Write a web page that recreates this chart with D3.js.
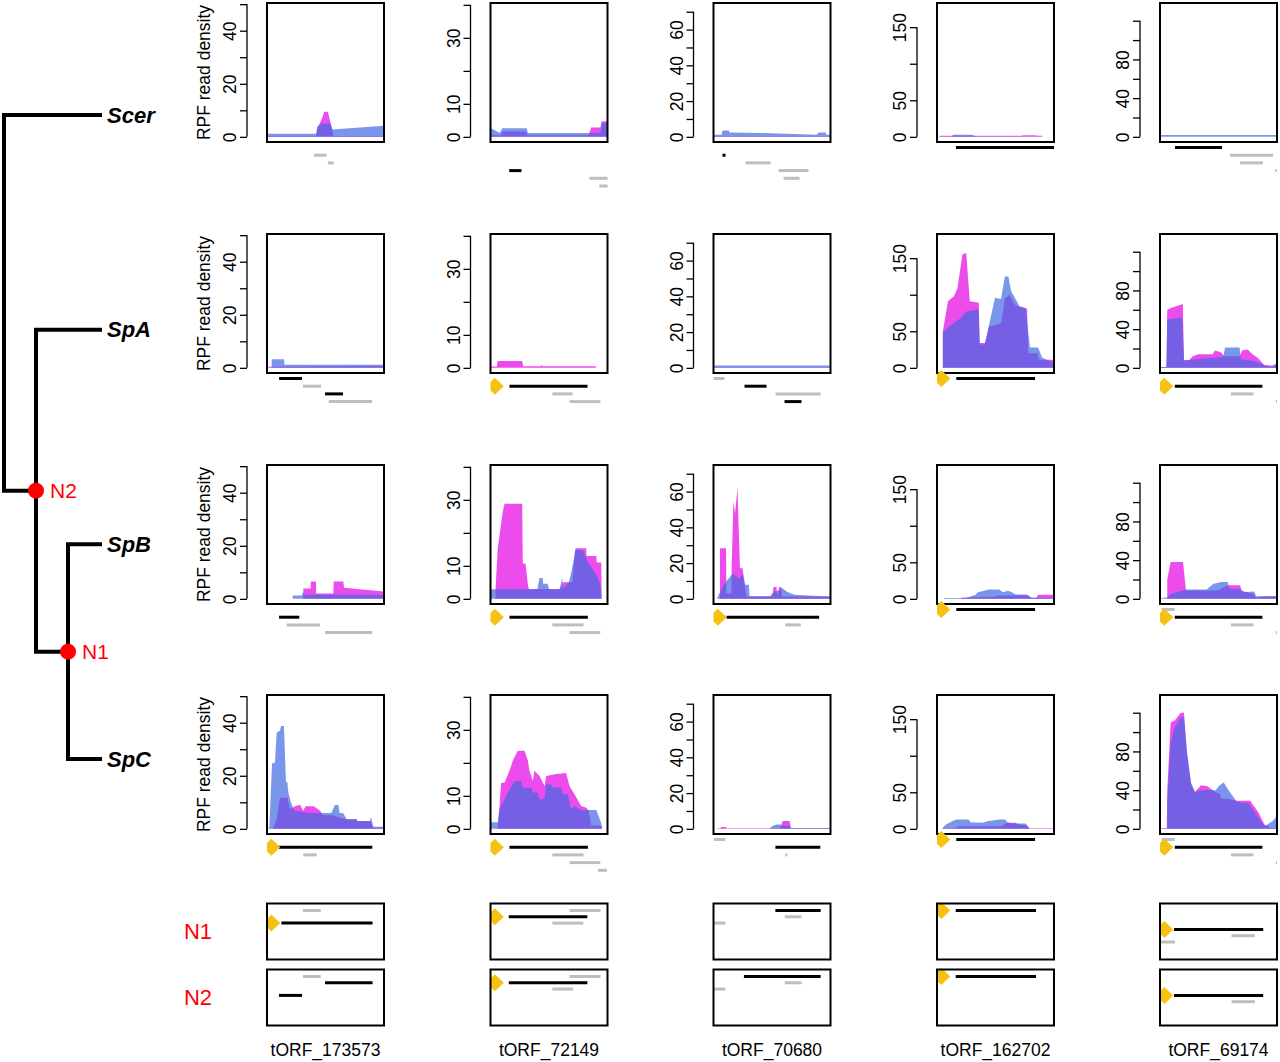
<!DOCTYPE html>
<html>
<head>
<meta charset="utf-8">
<script src="https://cdn.jsdelivr.net/npm/d3@7"></script>
<style>
  body { margin: 0; background: #fff; }
  svg { display: block; }
  text { font-family: "Liberation Sans", Arial, sans-serif; }
</style>
</head>
<body>
<svg id="chart" width="1280" height="1062"></svg>
<script>
// ---- data ----
const orfNames = ["tORF_173573", "tORF_72149", "tORF_70680", "tORF_162702", "tORF_69174"];
const yMax = [48.5, 39, 72, 176, 133];
const yTicks = [
  [0, 10, 20, 30, 40, 50],
  [0, 10, 20, 30, 40],
  [0, 10, 20, 30, 40, 50, 60, 70],
  [0, 50, 100, 150],
  [0, 20, 40, 60, 80, 100, 120]
];
const yTickLabels = [[0, 20, 40], [0, 10, 30], [0, 20, 40, 60], [0, 50, 150], [0, 40, 80]];

// density profiles: [position (0-100), RPF density]
const scerPink = [
  [[0,0.3],[42,0.3],[43,3],[47,7],[49,9.5],[52,9.5],[54,6],[56,2],[57,0.3],[100,0.3]],
  [[0,0.5],[9,0.5],[10,1.6],[30,1.6],[32,0.5],[84,0.5],[86,2.8],[94,2.8],[95,4.7],[100,4.7]],
  [[0,0.3],[100,0.3]],
  [[2,1.5],[72,1.5],[74,2.2],[84,2.2],[86,1.5],[90,1.5]],
  []
];
const scerBlue = [
  [[0,1.2],[42,1.2],[43,4],[47,5],[54,5],[56,2.8],[100,4.2]],
  [[0,2.7],[8,1.2],[10,2.6],[31,2.6],[32,1.2],[94,1.2],[95,4.2],[100,4.2]],
  [[0,1.2],[7,1.2],[7.7,3.5],[13,3.5],[13.7,2.4],[40,2.2],[63,1.8],[88,1.2],[90,2.4],[95.8,2.4],[96.5,1.2],[100,1.2]],
  [[2,0.4],[12,0.6],[14,2.8],[30,2.8],[33,0.6],[60,0.4],[90,0.3]],
  [[0,2],[100,2]]
];
const spaPink = [
  [[0,0.4],[100,0.7]],
  [[0,0.4],[5.5,0.4],[6,2.1],[27,2.1],[28,0.5],[43,0.5],[43.5,0.9],[44.5,0.5],[90,0.5],[90.5,0]],
  [[0,0.3],[100,0.3]],
  [[5,50],[9.4,91],[14.5,98],[17.5,109],[21.7,155],[25,157],[28,91],[35.7,89],[36.5,34],[41,34],[44.5,57],[53,60],[55,62],[58,95],[62,100],[66.7,86],[70.6,84],[75.8,82],[77,80],[78,20],[86,20],[87,11],[100,11]],
  [[0,0.8],[5.5,0.8],[6.2,60],[10,62],[19.5,66],[20.5,8],[25,8],[28,12],[33,14],[45,14],[47,18],[52,16],[55,12],[68,12],[70,18],[75,19],[79,14],[84,10],[89,3],[100,2]]
];
const spaBlue = [
  [[4,3.2],[14.5,3.2],[15,1.2],[100,1.2]],
  [],
  [[0,1.3],[100,1.3]],
  [[5,48],[9,55],[20,68],[25,77],[35.5,80],[36.5,32],[41,32],[44.5,59],[49.6,96],[54.7,94],[58,125],[61,125],[63.3,105],[70.6,84],[75.8,81],[79.5,28],[86.4,28],[89.8,14],[98.8,7],[100,6]],
  [[0,1],[5.5,1],[6.2,50],[19,52],[20.5,7],[30,9],[40,10],[54,11],[55.6,21],[68,21],[69,9],[80,7],[89,3],[95,1],[98,4],[100,4]]
];
const spbPink = [
  [[31,3.9],[37.4,3.9],[37.5,6.5],[41.9,6.5],[42,2],[56.7,2],[57,6.5],[65.2,6.5],[65.8,4.2],[100,2.8]],
  [[4.3,3],[6.2,15.3],[10.5,26.5],[12,28.8],[27.1,28.8],[27.6,10.7],[29.9,10.7],[31.9,4.6],[32.7,3],[60,3],[62,5],[70,5],[72,14],[72.7,15.3],[81.8,15.3],[82.1,13],[90.4,13],[90.9,11],[94.7,11],[95,0]],
  [[5.5,28.3],[10.7,28.3],[11,3],[15.2,3],[15.6,20],[17,54.7],[18.4,48],[20.5,62],[22,30],[22.6,17],[24.7,17.4],[26.8,8.5],[28,1.3],[50.2,1.3],[51.3,6.6],[53.9,6.6],[54.5,1.3],[56.1,6.6],[58.1,6.6],[58.5,1.3],[100,1.3]],
  [[20,0.5],[22,1.8],[50,3],[53,4.5],[77,4.5],[80,1.5],[85,1.5],[86.4,5.5],[100,5.5]],
  [[6.2,20],[9.1,38],[19.7,38],[22.2,8.7],[40,8.7],[50,9],[58,14],[68.4,14],[70,8],[80,5],[82,1.5],[89.3,2.8],[100,2.8]]
];
const spbBlue = [
  [[22,1.3],[29.7,1.3],[31,2.6],[32,1.5],[100,1.5]],
  [[0,2.9],[40,2.9],[41.9,6.3],[44.7,6.3],[45,4.6],[49,4.6],[50,2.9],[59,2.9],[61.3,6.3],[62,3],[67,5],[69,8],[72.7,14.8],[78.9,14.8],[83.2,11.2],[88.9,8.2],[93.8,4.6],[95,0]],
  [[3,0],[5,3],[8.3,7.5],[12.8,11.3],[16.2,14],[19,12.8],[22,11.3],[24.7,14],[26.8,7.9],[30.3,7.9],[30.8,1.5],[48.4,1.5],[50,2.8],[56,5],[58.9,6],[63.1,3.8],[69.3,2.3],[98,1.3],[100,1.3]],
  [[6,1],[25,1],[28,3],[33,5.5],[35,9],[44.5,12.7],[53,12.7],[56.4,9],[60.7,11],[64,9],[67.1,6],[77,6],[81,1.4],[100,1.4]],
  [[0,0.7],[6,1.5],[9.1,5],[22.2,9.7],[40,9.7],[45.7,15.6],[52.7,17.4],[58,17.4],[59,11],[68.4,10],[71.8,7],[80.6,7.6],[82.1,2.8],[100,2.8]]
];
const spcPink = [
  [[5,0],[8.3,3.6],[11.1,11.7],[17.4,11.7],[19.7,7.4],[23.9,8.5],[28.2,9.1],[31,6.8],[33,8.5],[40,8.5],[45.3,6.8],[48.1,5.1],[56.7,5.1],[62,4.2],[68.1,3.6],[76.7,3.6],[77,3],[88.1,3],[90.9,0.4],[100,0.4]],
  [[6,0],[7.7,6.9],[9.1,14],[12,14],[16.2,17.6],[19.1,20.7],[23.3,23.7],[29.1,23.7],[31.9,20.7],[33.3,17.6],[36.2,14.5],[37.6,17.6],[41.9,16],[46.2,13],[47.6,16],[56.2,16.6],[64.7,16.9],[67.5,13],[71.8,10.5],[77.5,6.9],[81.8,6.4],[84,5.5],[86,1],[95,1],[95.5,0]],
  [[3.1,0.4],[6,0.4],[6.5,1],[10.7,1],[11,0.4],[57,0.4],[58.9,4.2],[63,4.5],[65.2,4.2],[66,0.4],[100,0.4]],
  [[5,0.9],[16,0.9],[18,3.5],[55,3.6],[60,8.2],[67,8.2],[70,6],[76,5],[79,0.9],[100,0.9]],
  [[0,0.8],[5.8,0.8],[6.2,40],[9.1,110],[12.6,112],[17.8,120],[20.5,120],[23,78],[26.5,46],[29.9,38],[33.5,43],[35.1,45],[40.4,44],[47.5,38],[51,36],[52.7,31],[58,31],[65,29],[77.1,29],[84.1,17],[89.3,4.6],[94.6,1],[100,1]]
];
const spcBlue = [
  [[0,0.4],[2,0.4],[4.3,24.7],[6.8,25],[8.3,36.3],[11.1,37],[12,38.8],[14.5,38.8],[16.2,17.7],[17.4,17.7],[18.2,13.8],[20,10.6],[23,7],[28,6.5],[35,6],[55,6],[58.1,9],[61,9],[62,6],[65,6],[68.1,3.6],[76.7,3.6],[77,3],[88.1,3],[88.5,4.2],[89,4.2],[90.9,0.8],[100,0.8]],
  [[0,2],[6.2,2],[7.7,5.9],[12,9],[14.8,11],[20.5,14.5],[26.2,14.5],[27.6,12.5],[34.8,12.5],[36.2,11],[40.4,11],[41.9,9],[46.2,9],[47.6,13.5],[51.9,13.5],[53.3,12.5],[60.4,12.5],[61.8,10.5],[66.1,10.5],[69,5.9],[71.8,6.9],[78.9,5.4],[82,5.7],[90.4,5.7],[94.7,1.8],[95,0]],
  [[48,0],[50,1.5],[53.6,2.4],[57.1,2.4],[58.9,1.8],[65,1.8],[66.5,0.5],[100,0.5]],
  [[4,0],[7.7,5.9],[13,10.5],[16.5,12.7],[27,12.7],[28.7,9],[39.2,8.2],[42.8,10.5],[53.2,12.7],[58.4,12.7],[60.1,9],[63.6,7.3],[75.8,7.3],[79.3,0]],
  [[6.2,27],[9.1,89],[12.6,105],[17.8,115],[20.5,115],[23,80],[26.5,48],[29.9,38],[35.1,40],[47.5,40],[51,45],[54.5,48],[58,41],[65,29],[68.4,27],[75.4,27],[84.1,11.6],[89.3,2.8],[96.4,8],[100,13.3]]
];

// ORF annotations: [start, end, track level, 1 = tORF (black) / 0 = other ORF (grey)]
const scerOrfs = [
  [[40,51,1,0],[52,57,2,0]],
  [[16,26.5,3,1],[84.6,100,4,0],[93,100,5,0]],
  [[7.7,10.3,1,1],[27.4,48.7,2,0],[55.6,81.2,3,0],[59.9,73.5,4,0]],
  [[16.2,100,0,1]],
  [[12.8,53,0,1],[59.9,96.6,1,0],[68.4,88,2,0],[98.6,100,3,0]]
];
const spaOrfs = [
  [[10.3,29.9,0,1],[30.8,46.2,1,0],[49.6,65,2,1],[52.8,89.8,3,0]],
  [[16.2,82.9,1,1],[53,70.1,2,0],[67.5,94,3,0]],
  [[0,9.4,0,0],[26.5,45.3,1,1],[53,91.5,2,0],[60.7,75.2,3,1]],
  [[16.5,83.8,0,1]],
  [[12.6,87.5,1,1],[60.7,79.9,2,0],[99,100,3,0]]
];
const spbOrfs = [
  [[10.3,27.6,1,1],[16.8,45.3,2,0],[49.6,90,3,0]],
  [[16.2,83.2,1,1],[52.8,79.5,2,0],[67.5,93.8,3,0]],
  [[11.1,90.3,1,1],[61.3,74.6,2,0]],
  [[16.5,83.8,0,1]],
  [[1.4,12.6,0,0],[12.6,87.5,1,1],[60.7,79.9,2,0],[99,100,3,0]]
];
const spcOrfs = [
  [[9.7,90,1,1],[31,42.5,2,0]],
  [[16.2,83.2,1,1],[52.8,79.5,2,0],[67.5,93.8,3,0],[91.8,99.5,4,0]],
  [[0.3,10,0,0],[52.9,91.3,1,1],[61.3,63.1,2,0]],
  [[16.5,83.8,0,1]],
  [[1.4,12.6,0,0],[12.6,87.5,1,1],[60.7,79.9,2,0],[99,100,3,0]]
];
const n1Orfs = [
  [[30.7,45.9,0,0],[12.3,90.2,2,1]],
  [[67.5,94,0,0],[15.6,82.8,1,1],[52.9,79.4,2,0]],
  [[52.9,91.6,0,1],[60.9,75.2,1,0],[0,10.2,2,0]],
  [[16,84.6,0,1]],
  [[99,100,2,0],[12,88.2,3,1],[61.1,81,4,0],[0.9,12.8,5,0]]
];
const n2Orfs = [
  [[30.7,45.9,0,0],[49.6,90.2,1,1],[10.2,30,3,1]],
  [[67.5,94,0,0],[15.6,82.8,1,1],[52.9,70.6,2,0]],
  [[26,91.6,0,1],[60.9,75.2,1,0],[0,10.2,2,0]],
  [[16,84.6,0,1]],
  [[99,100,2,0],[12,88.2,3,1],[61.1,81,4,0]]
];
// track level of the start-codon marker (null = none)
const scerStart = [null, null, null, null, null];
const spaStart = [null, 1, null, 0, 1];
const spbStart = [null, 1, 1, 0, 1];
const spcStart = [1, 1, null, 0, 1];
const n1Start = [2, 1, null, 0, 3];
const n2Start = [null, 1, null, 0, 3];

const ancestors = ["N1", "N2"];
const tree = { name: "root", children: [
  { name: "Scer" },
  { name: "N2", children: [
    { name: "SpA" },
    { name: "N1", children: [{ name: "SpB" }, { name: "SpC" }] }
  ] }
] };

// ---- layout ----
const svg = d3.select("#chart");
const W = 117, H = 139;
const colX = [267, 490.5, 713.5, 937, 1160];
const rowY = [3, 234, 465, 695];
const nBoxY = [903.5, 969.5], nBoxH = 56;
const pinkFill = "#e600e6", blueFill = "#4169e1";
const grey = "#bebebe";
const markerPath = "M0,-4.2L4.3,-8.5L13.3,0L4.3,8.5L0,4.2Z";

const rows = [
  { pink: scerPink, blue: scerBlue, orfs: scerOrfs, start: scerStart },
  { pink: spaPink, blue: spaBlue, orfs: spaOrfs, start: spaStart },
  { pink: spbPink, blue: spbBlue, orfs: spbOrfs, start: spbStart },
  { pink: spcPink, blue: spcBlue, orfs: spcOrfs, start: spcStart }
];

function drawOrfs(list, x, levelY) {
  svg.append("g").selectAll("line")
    .data(list)
    .join("line")
      .attr("x1", d => x(d[0]))
      .attr("x2", d => x(d[1]))
      .attr("y1", d => levelY(d[2]))
      .attr("y2", d => levelY(d[2]))
      .attr("stroke", d => d[3] ? "#000" : grey)
      .attr("stroke-width", 3);
}

function drawStart(level, x, levelY) {
  if (level === null) return;
  svg.append("path")
    .attr("d", markerPath)
    .attr("transform", `translate(${x(0)},${levelY(level)})`)
    .attr("fill", "#f5c211");
}

rows.forEach((row, r) => {
  orfNames.forEach((name, c) => {
    const x0 = colX[c], y0 = rowY[r];
    const m = yMax[c];
    const x = d3.scaleLinear().domain([0, 100]).range([x0, x0 + W]);
    const y = d3.scaleLinear().domain([-0.04 * m, 1.04 * m]).range([y0 + H, y0]);

    const id = `clip-${r}-${c}`;
    svg.append("clipPath").attr("id", id)
      .append("rect").attr("x", x0).attr("y", y0).attr("width", W).attr("height", H);

    const area = d3.area()
      .x(d => x(d[0]))
      .y0(y(0))
      .y1(d => y(d[1]));

    const g = svg.append("g").attr("clip-path", `url(#${id})`);
    if (row.pink[c].length)
      g.append("path").datum(row.pink[c]).attr("d", area)
        .attr("fill", pinkFill).attr("fill-opacity", 0.7);
    if (row.blue[c].length)
      g.append("path").datum(row.blue[c]).attr("d", area)
        .attr("fill", blueFill).attr("fill-opacity", 0.7);

    svg.append("rect")
      .attr("x", x0).attr("y", y0).attr("width", W).attr("height", H)
      .attr("fill", "none").attr("stroke", "#000").attr("stroke-width", 2);

    // y axis, R style
    const ticks = yTicks[c];
    const ax = svg.append("g")
      .attr("transform", `translate(${x0 - 20},0)`)
      .call(d3.axisLeft(y).tickValues(ticks).tickSize(7)
        .tickFormat(d => yTickLabels[c].includes(d) ? d : ""));
    ax.select(".domain").remove();
    ax.append("line")
      .attr("y1", y(ticks[0])).attr("y2", y(ticks[ticks.length - 1]))
      .attr("stroke", "#000").attr("stroke-width", 1.3);
    ax.selectAll(".tick line").attr("stroke-width", 1.3);
    ax.selectAll(".tick text")
      .attr("transform", "rotate(-90)")
      .attr("x", 0).attr("y", -11).attr("dy", 0)
      .attr("text-anchor", "middle")
      .attr("fill", "#000")
      .style("font-family", "'Liberation Sans', Arial, sans-serif")
      .style("font-size", "17.5px");

    if (c === 0) {
      svg.append("text")
        .attr("transform", `translate(${x0 - 57},${y0 + H / 2}) rotate(-90)`)
        .attr("text-anchor", "middle")
        .attr("font-size", 17.5)
        .text("RPF read density");
    }

    const levelY = l => y0 + H + 5.5 + 7.7 * l;
    drawOrfs(row.orfs[c], x, levelY);
    drawStart(row.start[c], x, levelY);
  });
});

// ancestral reconstructions N1 / N2
[[n1Orfs, n1Start], [n2Orfs, n2Start]].forEach(([orfs, starts], k) => {
  const by = nBoxY[k];
  orfNames.forEach((name, c) => {
    const x0 = colX[c];
    const x = d3.scaleLinear().domain([0, 100]).range([x0, x0 + W]);
    const levelY = l => by + 7 + 6.3 * l;
    drawOrfs(orfs[c], x, levelY);
    drawStart(starts[c], x, levelY);
    svg.append("rect")
      .attr("x", x0).attr("y", by).attr("width", W).attr("height", nBoxH)
      .attr("fill", "none").attr("stroke", "#000").attr("stroke-width", 2);
  });
  svg.append("text")
    .attr("x", 198).attr("y", by + nBoxH / 2)
    .attr("dy", "0.35em")
    .attr("text-anchor", "middle")
    .attr("font-size", 22)
    .attr("fill", "red")
    .text(ancestors[k]);
});

// ORF names
svg.append("g").selectAll("text")
  .data(orfNames)
  .join("text")
    .attr("x", (d, i) => colX[i] + W / 2)
    .attr("y", 1050)
    .attr("dy", "0.35em")
    .attr("text-anchor", "middle")
    .attr("font-size", 17.5)
    .text(d => d);

// species tree: cluster layout, then stretch leaves to the tip positions
const root = d3.hierarchy(tree);
d3.cluster().size([1, 1]).separation(() => 1)(root);
const tipY = d3.scaleLinear().domain(d3.extent(root.leaves(), d => d.x)).range([115, 759]);
const depthX = d3.scaleLinear().domain([0, 1]).range([4, 100]);

const treeG = svg.append("g");
treeG.selectAll("path")
  .data(root.links())
  .join("path")
    .attr("d", d => `M${depthX(d.source.y)},${tipY(d.source.x)}V${tipY(d.target.x)}H${depthX(d.target.y)}`)
    .attr("fill", "none")
    .attr("stroke", "#000")
    .attr("stroke-width", 4)
    .attr("stroke-linecap", "square");

treeG.selectAll("text.tip")
  .data(root.leaves())
  .join("text")
    .attr("class", "tip")
    .attr("x", d => depthX(d.y) + 7)
    .attr("y", d => tipY(d.x))
    .attr("dy", "0.35em")
    .attr("font-size", 22)
    .attr("font-weight", "bold")
    .attr("font-style", "italic")
    .text(d => d.data.name);

const inner = root.descendants().filter(d => ancestors.includes(d.data.name));
treeG.selectAll("circle")
  .data(inner)
  .join("circle")
    .attr("cx", d => depthX(d.y))
    .attr("cy", d => tipY(d.x))
    .attr("r", 8)
    .attr("fill", "red");
treeG.selectAll("text.node")
  .data(inner)
  .join("text")
    .attr("class", "node")
    .attr("x", d => depthX(d.y) + 14)
    .attr("y", d => tipY(d.x))
    .attr("dy", "0.35em")
    .attr("font-size", 21)
    .attr("fill", "red")
    .text(d => d.data.name);
</script>
</body>
</html>
